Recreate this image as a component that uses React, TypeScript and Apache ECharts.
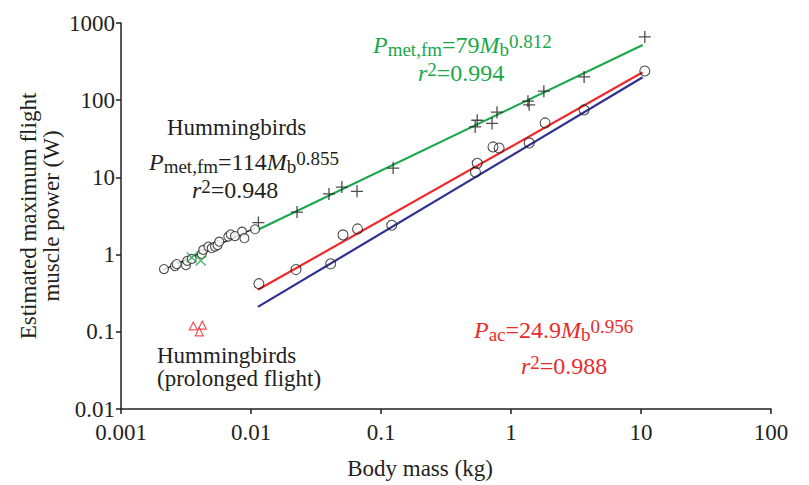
import React, { useEffect, useRef } from "react";
import * as echarts from "echarts";

const xTickLabels = ["0.001", "0.01", "0.1", "1", "10", "100"];
const yTickLabels = ["0.01", "0.1", "1", "10", "100", "1000"];

// Large birds, metabolic estimate (+)
const plusPoints = [
  [0.0114, 2.6], [0.0226, 3.55], [0.0398, 6.1], [0.05, 7.5], [0.0654, 6.6],
  [0.124, 13.2], [0.53, 45], [0.55, 55], [0.715, 50], [0.78, 70],
  [1.35, 97], [1.38, 87], [1.79, 131], [3.65, 200], [10.7, 660],
];
// Large birds, aerodynamic estimate (o)
const circlePoints = [
  [0.0115, 0.42], [0.0222, 0.64], [0.041, 0.76], [0.051, 1.8], [0.066, 2.15],
  [0.121, 2.4], [0.533, 11.7], [0.55, 15.2], [0.727, 24.8], [0.81, 24],
  [1.38, 28], [1.83, 50.7], [3.65, 74.7], [10.7, 239],
];
// Hummingbirds (o)
const hummingPoints = [
  [0.00214, 0.65], [0.0026, 0.71], [0.00268, 0.755], [0.00316, 0.73], [0.00323, 0.83],
  [0.0035, 0.88], [0.00418, 1.02], [0.00429, 1.15], [0.0047, 1.27], [0.00499, 1.21],
  [0.00529, 1.27], [0.00554, 1.33], [0.0057, 1.47], [0.00669, 1.71], [0.00698, 1.83],
  [0.00753, 1.74], [0.00853, 1.98], [0.0089, 1.63], [0.01074, 2.13],
];
// Hummingbirds, green crosses
const greenCross = [[0.0035, 0.92], [0.0041, 0.84]];
// Hummingbirds prolonged flight (triangles)
const prolonged = [[0.0036, 0.119], [0.00422, 0.122], [0.004, 0.1]];

// Regression lines (endpoints)
const hummingLine = [[0.0021, 0.63], [0.0107, 2.2]];
const metLine = [[0.0113, 2.1], [10.3, 520]];
const acLine = [[0.0113, 0.35], [10.3, 230]];
const blueLine = [[0.0113, 0.21], [10.3, 198]];

const BLACK = "#231f20";
const GREEN = "#1ba84a";
const RED = "#ec2a2c";
const BLUE = "#2e3192";
const FONT = "Liberation Serif, Times New Roman, serif";

function richFor(color: string) {
  return {
    i: { fontFamily: FONT, fontSize: 24, fontStyle: "italic", fill: color, lineHeight: 27, verticalAlign: "middle" },
    n: { fontFamily: FONT, fontSize: 24, fill: color, lineHeight: 27, verticalAlign: "middle" },
    sub: { fontFamily: FONT, fontSize: 19, fill: color, lineHeight: 14, verticalAlign: "bottom" },
    sup: { fontFamily: FONT, fontSize: 19, fill: color, lineHeight: 14, verticalAlign: "top" },
  };
}

function txt(x: number, y: number, text: string, color: string, rich = false) {
  const style: any = {
    text,
    fill: color,
    font: `23px ${FONT}`,
    textAlign: "left",
    textVerticalAlign: "middle",
  };
  if (rich) style.rich = richFor(color);
  return { type: "text", x, y, style, z: 100 };
}

export default function App() {
  const ref = useRef<HTMLDivElement>(null);
  useEffect(() => {
    const chart = echarts.init(ref.current!, null, { renderer: "svg" });
    const logLabel = (labels: string[], minExp: number) => (v: number) => {
      const e = Math.round(Math.log10(v));
      return labels[e - minExp] ?? "";
    };
    const plusSymbol = "path://M5,0L5,10M0,5L10,5";
    const crossSymbol = "path://M0,0L10,10M10,0L0,10";
    chart.setOption({
      animation: false,
      backgroundColor: "#ffffff",
      grid: { left: 121, right: 38, top: 23, bottom: 76 },
      xAxis: {
        type: "log",
        logBase: 10,
        min: 0.001,
        max: 100,
        axisLine: { lineStyle: { color: BLACK, width: 1.5 } },
        axisTick: { inside: false, length: 5, lineStyle: { color: BLACK, width: 1.5 } },
        minorTick: { show: false },
        splitLine: { show: false },
        axisLabel: {
          formatter: logLabel(xTickLabels, -3),
          fontFamily: FONT,
          fontSize: 23,
          color: BLACK,
          margin: 12,
        },
      },
      yAxis: {
        type: "log",
        logBase: 10,
        min: 0.01,
        max: 1000,
        axisLine: { lineStyle: { color: BLACK, width: 1.5 } },
        axisTick: { inside: false, length: 5, lineStyle: { color: BLACK, width: 1.5 } },
        splitLine: { show: false },
        axisLabel: {
          formatter: logLabel(yTickLabels, -2),
          fontFamily: FONT,
          fontSize: 23,
          color: BLACK,
          margin: 6,
        },
      },
      series: [
        { type: "line", data: hummingLine, symbol: "none", lineStyle: { color: BLACK, width: 1.5 }, z: 2 },
        { type: "line", data: metLine, symbol: "none", lineStyle: { color: GREEN, width: 2.2 }, z: 2 },
        { type: "line", data: acLine, symbol: "none", lineStyle: { color: RED, width: 2.2 }, z: 2 },
        { type: "line", data: blueLine, symbol: "none", lineStyle: { color: BLUE, width: 2.2 }, z: 2 },
        {
          type: "scatter", data: plusPoints, symbol: plusSymbol, symbolSize: 12,
          itemStyle: { color: "none", borderColor: BLACK, borderWidth: 1.3 }, z: 3,
        },
        {
          type: "scatter", data: circlePoints, symbol: "circle", symbolSize: 10,
          itemStyle: { color: "rgba(255,255,255,0)", borderColor: BLACK, borderWidth: 1.1 }, z: 3,
        },
        {
          type: "scatter", data: hummingPoints, symbol: "circle", symbolSize: 9,
          itemStyle: { color: "#ffffff", borderColor: BLACK, borderWidth: 1.1 }, z: 3,
        },
        {
          type: "scatter", data: greenCross, symbol: crossSymbol, symbolSize: 10,
          itemStyle: { color: "none", borderColor: GREEN, borderWidth: 1.4 }, z: 4,
        },
        {
          type: "scatter", data: prolonged, symbol: "triangle", symbolSize: 8,
          itemStyle: { color: "#ffffff", borderColor: RED, borderWidth: 1.2 }, z: 4,
        },
      ],
      graphic: [
        txt(373, 45, "{i|P}{sub|met,fm}{n|=79}{i|M}{sub|b}{sup|0.812}", GREEN, true),
        txt(418, 73, "{i|r}{sup|2}{n|=0.994}", GREEN, true),
        txt(167, 127, "Hummingbirds", BLACK),
        txt(149, 162, "{i|P}{sub|met,fm}{n|=114}{i|M}{sub|b}{sup|0.855}", BLACK, true),
        txt(192, 190, "{i|r}{sup|2}{n|=0.948}", BLACK, true),
        txt(157, 355, "Hummingbirds", BLACK),
        txt(157, 378, "(prolonged flight)", BLACK),
        txt(474, 330, "{i|P}{sub|ac}{n|=24.9}{i|M}{sub|b}{sup|0.956}", RED, true),
        txt(521, 366, "{i|r}{sup|2}{n|=0.988}", RED, true),
        {
          type: "text",
          x: 40,
          y: 216,
          rotation: Math.PI / 2,
          style: {
            text: "Estimated maximum flight\nmuscle power (W)",
            fill: BLACK,
            font: `23px ${FONT}`,
            textAlign: "center",
            textVerticalAlign: "middle",
            lineHeight: 23,
          },
        },
        {
          type: "text",
          x: 420,
          y: 468,
          style: {
            text: "Body mass (kg)",
            fill: BLACK,
            font: `23px ${FONT}`,
            textAlign: "center",
            textVerticalAlign: "middle",
          },
        },
      ],
    });
    return () => chart.dispose();
  }, []);
  return (
    <div
      ref={ref}
      style={{ position: "fixed", left: 0, top: 0, width: 809, height: 485, background: "#fff" }}
    />
  );
}
